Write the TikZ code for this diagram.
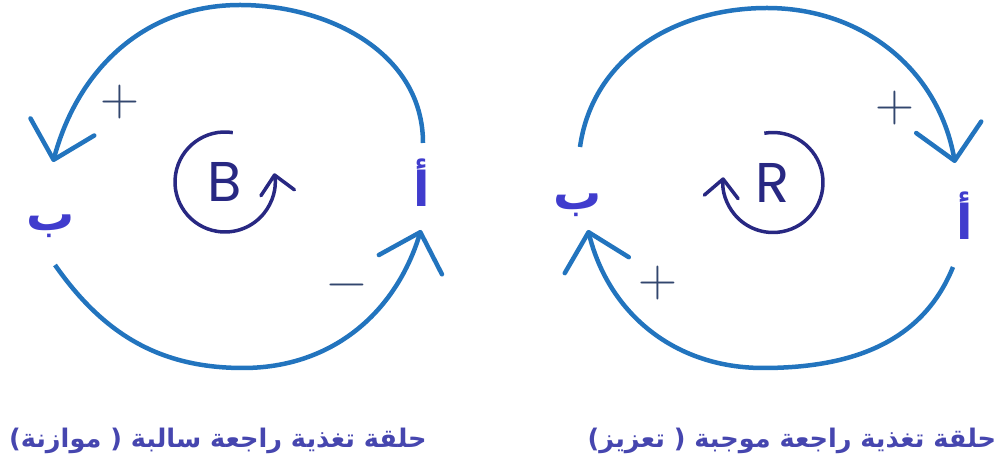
\documentclass[tikz,border=0pt]{standalone}
\usepackage{fontspec}
\usepackage{xcolor}
\usepackage{tikz}
\usetikzlibrary{arrows.meta, positioning}
\TeXXeTstate=1
\newfontfamily\arabicfont[Script=Arabic]{DejaVu Sans}
\newfontfamily\loopfont{Poppins}
\definecolor{linkblue}{RGB}{34, 116, 190}
\definecolor{labelviolet}{RGB}{64, 60, 205}
\definecolor{loopnavy}{RGB}{40, 40, 130}
\definecolor{signgray}{RGB}{50, 70, 110}
\definecolor{captionblue}{RGB}{70, 70, 175}
\tikzstyle{varlabel} = [inner sep=0pt, anchor=base, text=labelviolet, font=\arabicfont\bfseries\fontsize{48}{48}\selectfont]
\tikzstyle{link} = [-{Straight Barb[length=34pt, width=66pt, round]}, draw=linkblue, line width=4.5pt]
\tikzstyle{sign} = [inner sep=0pt, text=signgray, font=\fontsize{54}{54}\selectfont]
\tikzstyle{loopletter} = [inner sep=0pt, text=loopnavy, font=\loopfont\fontsize{56}{56}\selectfont]
\tikzstyle{loopline} = [-{Straight Barb[length=18pt, width=34pt, round]}, draw=loopnavy, line width=3.5pt]
\tikzstyle{caption} = [text=captionblue, font=\arabicfont\bfseries\fontsize{25.6}{26}\selectfont]

\begin{document}
\begin{tikzpicture}[x=1pt, y=1pt]
    \useasboundingbox (0, 0) rectangle (1002, 468);

    % Balancing loop
    \node[varlabel] (lb) at (51, 237) {\beginR ب\endR};
    \node[varlabel] (la) at (422, 261) {\beginR أ\endR};
    \node[loopletter] (bsym) at (225, 286) {B};
    \coordinate (ltop) at (240, 463);
    \coordinate (lbot) at (243, 100);
    \draw[link] ([shift={(1,64)}]la.base) to[out=90, in=0] (ltop) to[out=180, in=75] ([shift={(2,69)}]lb.base);
    \draw[link] ([shift={(4,-34)}]lb.base) to[out=-55, in=180] (lbot) to[out=0, in=-107] ([shift={(-1,-23)}]la.base);
    \draw[loopline] ([shift={(81:50)}]bsym.center) arc[start angle=81, end angle=370, radius=50pt];
    \node[sign] (lplus) at (120, 366) {+};
    \node[sign] (lminus) at (347, 177) {−};

    % Reinforcing loop
    \node[varlabel] (rb) at (578, 258) {\beginR ب\endR};
    \node[varlabel] (ra) at (965, 228) {\beginR أ\endR};
    \node[loopletter] (rsym) at (773, 285.5) {R};
    \coordinate (rtop) at (767, 460);
    \coordinate (rbot) at (763, 100);
    \draw[link] ([shift={(2,63)}]rb.base) to[out=82, in=180] (rtop) to[out=0, in=100] ([shift={(-10,77)}]ra.base);
    \draw[link] ([shift={(-12,-27)}]ra.base) to[out=-112, in=0] (rbot) to[out=180, in=-76] ([shift={(10,-20)}]rb.base);
    \draw[loopline] ([shift={(100:50)}]rsym.center) arc[start angle=100, end angle=-186, radius=50pt];
    \node[sign] (rplustop) at (895, 360) {+};
    \node[sign] (rplusbot) at (658, 185) {+};

    % Captions
    \node[caption] (lcap) at (218, 27) {\beginR حلقة تغذية راجعة سالبة ( موازنة)\endR};
    \node[caption] (rcap) at (792, 27) {\beginR حلقة تغذية راجعة موجبة ( تعزيز)\endR};
\end{tikzpicture}
\end{document}
